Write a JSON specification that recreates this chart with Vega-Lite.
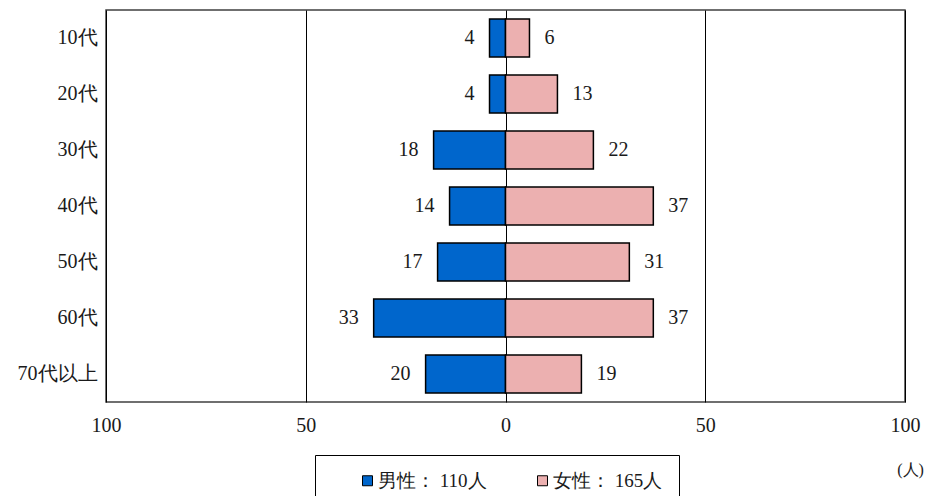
{
  "$schema": "https://vega.github.io/schema/vega-lite/v6.json",
  "autosize": {"type": "none"},
  "width": 799,
  "height": 392,
  "padding": {"left": 106, "top": 10, "right": 22, "bottom": 94},
  "background": "white",
  "config": {
    "view": {"stroke": "#404040", "strokeWidth": 1.5}
  },
  "data": {
    "values": [
      {"age": "10代", "sex": "男性", "v": -4, "n": 4},
      {"age": "20代", "sex": "男性", "v": -4, "n": 4},
      {"age": "30代", "sex": "男性", "v": -18, "n": 18},
      {"age": "40代", "sex": "男性", "v": -14, "n": 14},
      {"age": "50代", "sex": "男性", "v": -17, "n": 17},
      {"age": "60代", "sex": "男性", "v": -33, "n": 33},
      {"age": "70代以上", "sex": "男性", "v": -20, "n": 20},
      {"age": "10代", "sex": "女性", "v": 6, "n": 6},
      {"age": "20代", "sex": "女性", "v": 13, "n": 13},
      {"age": "30代", "sex": "女性", "v": 22, "n": 22},
      {"age": "40代", "sex": "女性", "v": 37, "n": 37},
      {"age": "50代", "sex": "女性", "v": 31, "n": 31},
      {"age": "60代", "sex": "女性", "v": 37, "n": 37},
      {"age": "70代以上", "sex": "女性", "v": 19, "n": 19}
    ]
  },
  "encoding": {
    "y": {
      "field": "age",
      "type": "ordinal",
      "sort": ["10代", "20代", "30代", "40代", "50代", "60代", "70代以上"],
      "scale": {"paddingInner": 0.32, "paddingOuter": 0.16},
      "axis": {
        "title": null,
        "ticks": false,
        "domain": false,
        "labelPadding": 9,
        "labelFontSize": 20,
        "labelFont": "Liberation Serif",
        "labelColor": "#1a1a1a"
      }
    },
    "x": {
      "field": "v",
      "type": "quantitative",
      "scale": {"domain": [-100, 100], "nice": false},
      "axis": {
        "values": [-100, -50, 0, 50, 100],
        "labelExpr": "abs(datum.value)",
        "labelFlush": false,
        "labelOverlap": false,
        "grid": true,
        "gridColor": "#000000",
        "gridWidth": 1,
        "ticks": false,
        "domain": false,
        "labelPadding": 13,
        "labelFontSize": 20,
        "labelBaseline": "top",
        "labelFont": "Liberation Serif",
        "labelColor": "#1a1a1a",
        "title": "(人)",
        "titleFont": "Liberation Serif",
        "titleColor": "#1a1a1a",
        "titleFontSize": 16,
        "titleFontWeight": "normal",
        "titleX": 804,
        "titleY": 67,
        "titleAlign": "center",
        "titleBaseline": "middle"
      }
    }
  },
  "layer": [
    {
      "mark": {"type": "bar", "stroke": "#000000", "strokeWidth": 1.5},
      "encoding": {
        "color": {
          "field": "sex",
          "type": "nominal",
          "scale": {"domain": ["男性", "女性"], "range": ["#0066CC", "#ECB0B0"]},
          "legend": {
            "title": null,
            "orient": "none",
            "legendX": 209,
            "legendY": 445,
            "direction": "horizontal",
            "strokeColor": "#000000",
            "padding": 16,
            "symbolType": "square",
            "symbolSize": 100,
            "symbolStrokeColor": "#000000",
            "symbolStrokeWidth": 1,
            "symbolOffset": 27,
            "labelOffset": 1,
            "columnPadding": 19,
            "labelFontSize": 19,
            "labelFont": "Liberation Serif",
            "labelColor": "#1a1a1a",
            "labelExpr": "datum.label == '男性' ? '男性： 110人' : '女性： 165人\u00a0\u00a0\u00a0\u00a0\u00a0'"
          }
        }
      }
    },
    {
      "transform": [{"filter": "datum.sex == '男性'"}],
      "mark": {"type": "text", "align": "right", "baseline": "middle", "dx": -15, "fontSize": 20, "color": "#1a1a1a", "font": "Liberation Serif"},
      "encoding": {"text": {"field": "n", "type": "quantitative"}}
    },
    {
      "transform": [{"filter": "datum.sex == '女性'"}],
      "mark": {"type": "text", "align": "left", "baseline": "middle", "dx": 15, "fontSize": 20, "color": "#1a1a1a", "font": "Liberation Serif"},
      "encoding": {"text": {"field": "n", "type": "quantitative"}}
    }
  ]
}
